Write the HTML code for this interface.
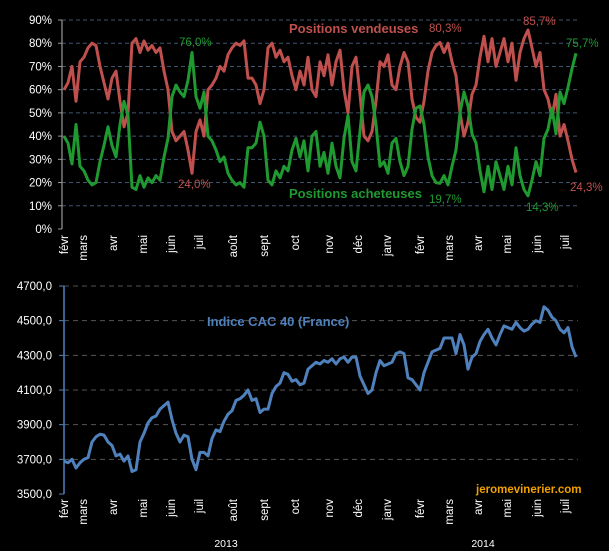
<!DOCTYPE html>
<html><head><meta charset="utf-8"><style>
html,body{margin:0;padding:0;background:#000;}
svg{display:block;font-family:"Liberation Sans",sans-serif;}
</style></head><body>
<svg id="chart" width="609" height="551" viewBox="0 0 609 551" xmlns="http://www.w3.org/2000/svg">
<rect width="609" height="551" fill="#000"/>
<g id="topPanel"></g>
<g id="botPanel"></g>
</svg>
<script>
const months = ["févr","mars","avr","mai","juin","juil","août","sept","oct","nov","déc","janv","févr","mars","avr","mai","juin","juil"];
const monthIdx = [0,4.75,12.25,19.75,26.75,33.75,42.25,50,57.75,66.25,73.5,80.75,89,96.25,103.5,110.75,118.25,125.25];
const pctTicks = [0,10,20,30,40,50,60,70,80,90];
const cacTicks = [3500,3700,3900,4100,4300,4500,4700];
const sellers = [60,63,70,55,72,74,78,80,79,70,63,56,65,68,55,44,50,80,82,76,81,77,79,76,78,68,60,42,38,40,42,34,24,42,47,40,60,62,65,70,68,75,78,80,79,81,65,65,62,54,60,78,80,74,77,72,74,66,60,68,62,74,60,57,72,66,75,62,72,77,60,50,70,74,58,40,38,42,55,72,70,75,62,60,70,76,72,56,48,46,55,68,76,79,80.3,76,80,72,66,50,40,46,58,62,74,83,72,82,70,76,82,72,80,64,76,82,85.7,78,70,76,60,56,48,58,40,45,38,30,24.3];
const buyers = [40,37,28,45,27,25,21,19,20,29,36,44,36,31,45,55,49,18,17,23,18,22,20,23,21,31,39,57,62,59,57,64,76,57,52,59,40,38,34,29,31,24,21,19,20,18,35,35,37,46,40,21,19,25,22,27,25,34,39,31,38,25,40,42,27,33,24,37,27,22,39,49,29,25,42,59,62,57,45,27,29,24,37,39,29,23,27,43,52,53,45,31,23,20,19.7,23,19,27,34,50,59,53,41,37,25,16,27,17,29,23,17,27,19,35,23,17,14.3,21,29,23,39,43,52,41,59,54,61,69,75.7];
const cac = [3690,3680,3700,3650,3680,3700,3710,3800,3830,3845,3840,3800,3780,3720,3730,3690,3720,3630,3640,3800,3850,3910,3940,3950,3990,4010,4030,3930,3850,3800,3840,3830,3700,3640,3740,3740,3720,3820,3870,3860,3920,3960,3980,4040,4050,4070,4100,4040,4050,3970,3990,3990,4080,4120,4140,4200,4190,4150,4160,4130,4140,4220,4240,4260,4250,4270,4260,4280,4250,4280,4290,4260,4290,4290,4180,4130,4080,4100,4200,4270,4240,4250,4260,4310,4320,4310,4170,4160,4130,4100,4200,4260,4320,4330,4340,4400,4400,4400,4310,4420,4360,4220,4290,4310,4380,4420,4450,4400,4360,4420,4470,4460,4450,4490,4460,4440,4450,4480,4500,4490,4580,4560,4520,4500,4450,4430,4460,4350,4290];

const NS="http://www.w3.org/2000/svg";
function mk(parent,tag,attrs,text){const e=document.createElementNS(NS,tag);for(const k in attrs)e.setAttribute(k,attrs[k]);if(text!==undefined)e.textContent=text;parent.appendChild(e);return e;}
const N = sellers.length;
function xT(i){return 64 + i*(576-64)/(N-1);}
function xB(i){return 64 + i*(576-64)/(cac.length-1);}
function yT(v){return 229 - v*(229-20)/90;}
function yB(v){return 494 - (v-3500)*(494-286)/1200;}

const topG=document.getElementById('topPanel'), botG=document.getElementById('botPanel');
pctTicks.forEach(t=>{
  if(t>0){const g=mk(topG,'line',{x1:62,x2:578,y1:yT(t),y2:yT(t),stroke:'#3f5670','stroke-width':1,'stroke-dasharray':'4,3'});
  
  }
  const tk=mk(topG,'line',{x1:58,x2:62,y1:yT(t),y2:yT(t),stroke:'#999'});
  
  
  const l=mk(topG,'text',{x:52,y:yT(t)+4,'text-anchor':'end',fill:'#fff','font-size':11.5},t+'%');
  
  
});
const ax=mk(topG,'line',{x1:62,x2:62,y1:20,y2:229,stroke:'#999','stroke-width':1.2});


function series(parent,arr,xf,yf,color,name){
  const p=arr.map((v,i)=>xf(i).toFixed(1)+','+yf(v).toFixed(1)).join(' ');
  const e=mk(parent,'polyline',{points:p,fill:'none',stroke:color,'stroke-width':3,'stroke-linejoin':'round'});
  
  
}
series(topG,sellers,xT,yT,'#c0504d','sellers-line');
series(topG,buyers,xT,yT,'#1f9a30','buyers-line');
function monthLabels(parent,yTop){
  months.forEach((m,k)=>{
    const x=xT(monthIdx[k])+4;
    const t=mk(parent,'text',{x:0,y:0,transform:`translate(${x},${yTop}) rotate(-90)`,'text-anchor':'end',fill:'#fff','font-size':11.5},m);
    
    
  });
}
monthLabels(topG,235);
function txt(parent,x,y,s,color,size,weight,name,anchor){
  const t=mk(parent,'text',{x:x,y:y,fill:color,'font-size':size,'font-weight':weight,'text-anchor':anchor||'start'},s);
  
  
}
txt(topG,289,33,'Positions vendeuses','#c0504d',13,'bold','sellers-label');
txt(topG,289,198,'Positions acheteuses','#1f9a30',13,'bold','buyers-label');
txt(topG,179,46,'76,0%','#1f9a30',11.5,'normal','annotation-buyers-max-2013');
txt(topG,178,188,'24,0%','#c0504d',11.5,'normal','annotation-sellers-min-2013');
txt(topG,429,32,'80,3%','#c0504d',11.5,'normal','annotation-sellers-feb-2014');
txt(topG,523,25,'85,7%','#c0504d',11.5,'normal','annotation-sellers-max');
txt(topG,566,47,'75,7%','#1f9a30',11.5,'normal','annotation-buyers-last');
txt(topG,570,191,'24,3%','#c0504d',11.5,'normal','annotation-sellers-last');
txt(topG,429,203,'19,7%','#1f9a30',11.5,'normal','annotation-buyers-feb-2014');
txt(topG,526,211,'14,3%','#1f9a30',11.5,'normal','annotation-buyers-min');

cacTicks.forEach(t=>{
  if(t>3500){const g=mk(botG,'line',{x1:64,x2:578,y1:yB(t),y2:yB(t),stroke:'#555','stroke-width':1,'stroke-dasharray':'5,4'});
  
  }
  const tk=mk(botG,'line',{x1:59,x2:64,y1:yB(t),y2:yB(t),stroke:'#4f81bd'});
  
  
  const l=mk(botG,'text',{x:52,y:yB(t)+4,'text-anchor':'end',fill:'#fff','font-size':11.5},t+',0');
  
  
});
const ax2=mk(botG,'line',{x1:64,x2:64,y1:286,y2:494,stroke:'#4f81bd','stroke-width':1.5});


series(botG,cac,xB,yB,'#4f81bd','cac40-line');
monthLabels(botG,499);
txt(botG,207,326,'Indice CAC 40 (France)','#4f81bd',13,'bold','cac40-label');
txt(botG,476,493,'jeromevinerier.com','#f0a000',11.5,'bold','watermark');
txt(botG,226,547,'2013','#fff',10.5,'normal','year-label-2013','middle');
txt(botG,483,547,'2014','#fff',10.5,'normal','year-label-2014','middle');
</script>
</body></html>
